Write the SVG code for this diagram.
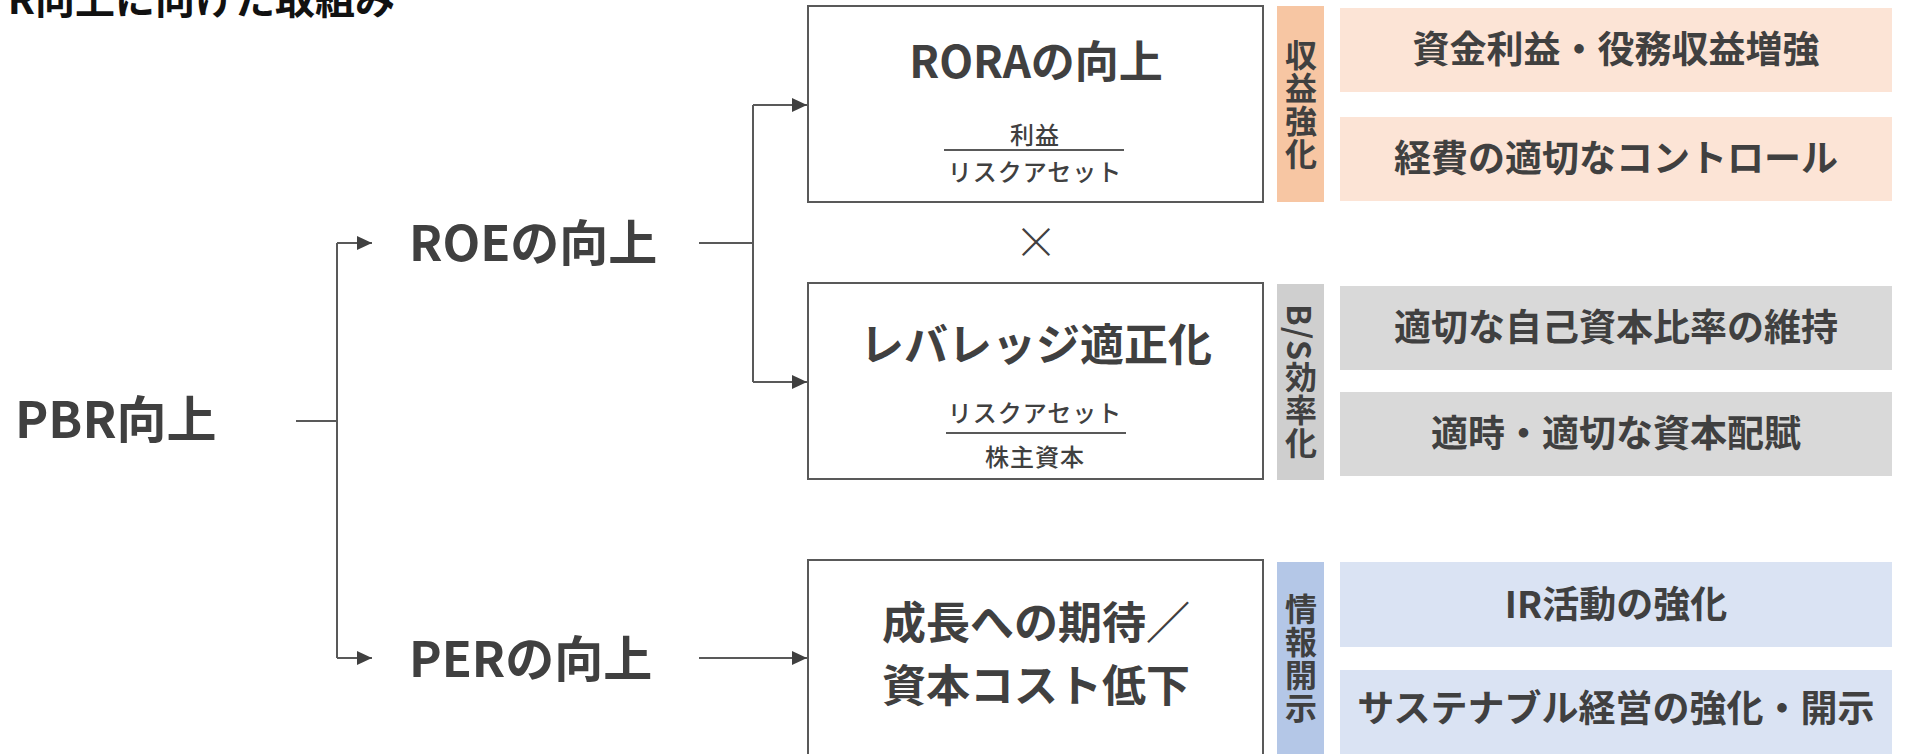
<svg xmlns="http://www.w3.org/2000/svg" width="1906" height="754" viewBox="0 0 1906 754">
<defs>
<style>
text{font-family:"Noto Sans CJK JP","Noto Sans",sans-serif;fill:#404040;}
.title{font-size:40px;font-weight:700;fill:#111;}
.lbl{font-size:49px;font-weight:700;}
.pbr{font-size:50px;font-weight:700;}
.bt{font-size:44px;font-weight:700;text-anchor:middle;}
.fr{font-size:24px;font-weight:500;text-anchor:middle;letter-spacing:1px;}
.rt{font-size:37px;font-weight:700;text-anchor:middle;}
.tab{font-size:32px;font-weight:700;text-anchor:middle;writing-mode:vertical-rl;text-orientation:mixed;letter-spacing:1px;}
.box{fill:#fff;stroke:#595959;stroke-width:2;}
.ln{fill:none;stroke:#595959;stroke-width:2;}
.c{fill:none;stroke:#595959;stroke-width:2;}
</style>
<marker id="ah" markerWidth="16" markerHeight="14" refX="15" refY="7" orient="auto" markerUnits="userSpaceOnUse">
<path d="M0,0 L15,7 L0,14 Z" fill="#404040"/>
</marker>
</defs>
<rect width="1906" height="754" fill="#fff"/>

<g id="title"><text class="title" x="395" y="14" text-anchor="end">R向上に向けた取組み</text></g>

<g id="connectors">
<path class="c" d="M296,421 H337"/>
<path class="c" d="M337,243 V658"/>
<path class="c" d="M337,243 H372" marker-end="url(#ah)"/>
<path class="c" d="M337,658 H372" marker-end="url(#ah)"/>
<path class="c" d="M699,243 H753"/>
<path class="c" d="M753,105 V382"/>
<path class="c" d="M753,105 H807" marker-end="url(#ah)"/>
<path class="c" d="M753,382 H807" marker-end="url(#ah)"/>
<path class="c" d="M699,658 H807" marker-end="url(#ah)"/>
</g>

<g id="pbr"><text class="pbr" x="15" y="438">PBR向上</text></g>
<g id="roe"><text class="lbl" x="409" y="261">ROEの向上</text></g>
<g id="per"><text class="lbl" x="409" y="677">PERの向上</text></g>

<g id="rora">
<rect class="box" x="808" y="6" width="455" height="196"/>
<text class="bt" x="1036" y="78">RORAの向上</text>
<text class="fr" x="1035" y="144">利益</text>
<path class="ln" d="M944,150 H1124"/>
<text class="fr" x="1035" y="181">リスクアセット</text>
</g>

<g id="times"><text x="1036" y="259" font-size="44" font-weight="300" text-anchor="middle">×</text></g>

<g id="leverage">
<rect class="box" x="808" y="283" width="455" height="196"/>
<text class="bt" x="1036" y="361">レバレッジ適正化</text>
<text class="fr" x="1035" y="422">リスクアセット</text>
<path class="ln" d="M946,433 H1126"/>
<text class="fr" x="1035" y="466">株主資本</text>
</g>

<g id="growth">
<rect class="box" x="808" y="560" width="455" height="230"/>
<text class="bt" x="1036" y="639">成長への期待／</text>
<text class="bt" x="1036" y="702">資本コスト低下</text>
</g>

<g id="tab-revenue">
<rect x="1277" y="6" width="47" height="196" fill="#F7C6A3"/>
<text class="tab" x="1301" y="105">収益強化</text>
</g>
<g id="tab-bs">
<rect x="1277" y="284" width="47" height="196" fill="#CFCFCF"/>
<text class="tab" x="1301" y="382">B/S効率化</text>
</g>
<g id="tab-disclosure">
<rect x="1277" y="562" width="47" height="230" fill="#B4C7E7"/>
<text class="tab" x="1301" y="659">情報開示</text>
</g>

<g id="r1"><rect x="1340" y="8" width="552" height="84" fill="#FCE4D6"/><text class="rt" x="1616" y="63">資金利益・役務収益増強</text></g>
<g id="r2"><rect x="1340" y="117" width="552" height="84" fill="#FCE4D6"/><text class="rt" x="1616" y="172">経費の適切なコントロール</text></g>
<g id="r3"><rect x="1340" y="286" width="552" height="84" fill="#D9D9D9"/><text class="rt" x="1616" y="341">適切な自己資本比率の維持</text></g>
<g id="r4"><rect x="1340" y="392" width="552" height="84" fill="#D9D9D9"/><text class="rt" x="1616" y="447">適時・適切な資本配賦</text></g>
<g id="r5"><rect x="1340" y="562" width="552" height="85" fill="#DAE3F3"/><text class="rt" x="1616" y="618">IR活動の強化</text></g>
<g id="r6"><rect x="1340" y="670" width="552" height="120" fill="#DAE3F3"/><text class="rt" x="1616" y="722">サステナブル経営の強化・開示</text></g>
</svg>
